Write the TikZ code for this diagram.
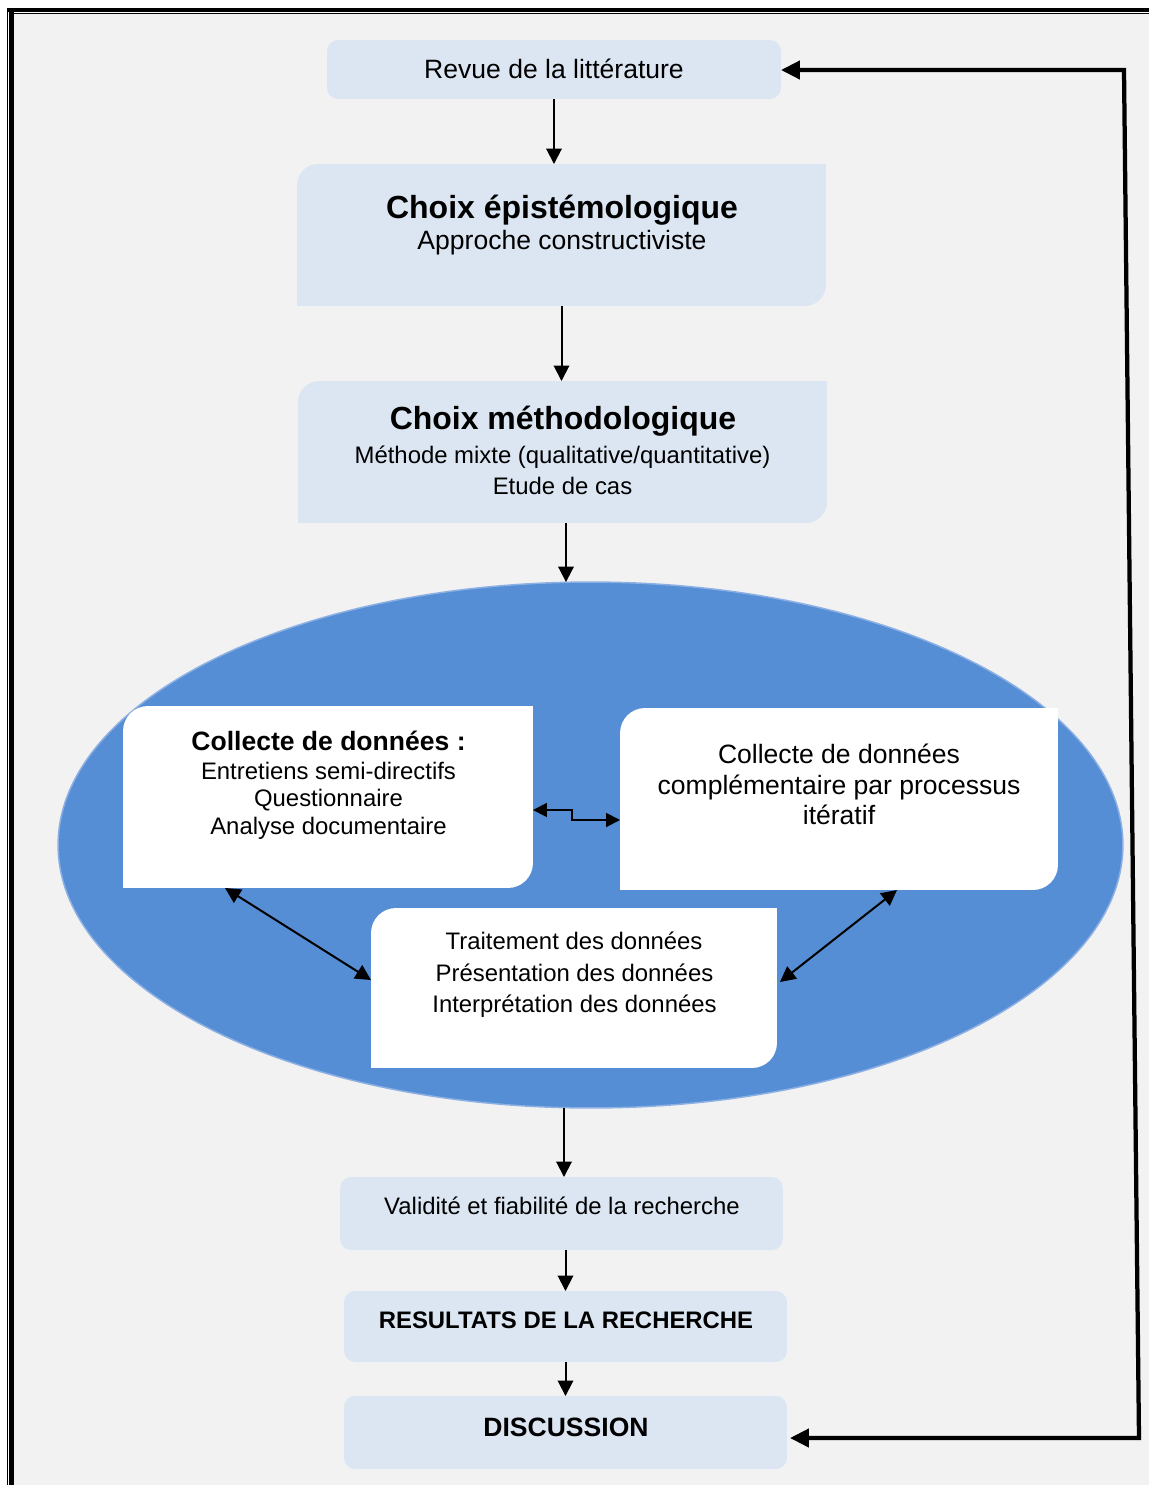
\documentclass[tikz,border=0pt]{standalone}
\usepackage{fontspec}
\setmainfont{Liberation Sans}
\usetikzlibrary{arrows.meta,shapes.geometric}
\definecolor{pagegray}{HTML}{F2F2F2}
\definecolor{boxblue}{HTML}{DCE6F2}
\definecolor{ellblue}{HTML}{558ED5}
\definecolor{ellrim}{HTML}{8CB0E3}
% fill a box whose top-left and bottom-right corners are rounded
\newcommand\tlbrfill[3]{%
  \fill[#3] (#1.south west) -- ([yshift=-#2]#1.north west)
    arc[start angle=180,end angle=90,radius=#2] -- (#1.north east)
    -- ([yshift=#2]#1.south east)
    arc[start angle=0,end angle=-90,radius=#2] -- cycle;}
\begin{document}
\begin{tikzpicture}[x=0.02cm,y=0.02cm,
  txtL/.style={font=\fontsize{15.1}{18}\selectfont, anchor=base, inner sep=0pt},
  txtS/.style={font=\fontsize{13.6}{16}\selectfont, anchor=base, inner sep=0pt},
  txtSB/.style={font=\fontsize{13.6}{16}\selectfont\bfseries, anchor=base, inner sep=0pt},
  txtLB/.style={font=\fontsize{15.1}{18}\selectfont\bfseries, anchor=base, inner sep=0pt},
  txtH/.style={font=\fontsize{18.2}{22}\selectfont\bfseries, anchor=base, inner sep=0pt},
  boxnode/.style={rectangle, inner sep=0pt, outer sep=0pt},
  roundbox/.style={boxnode, fill=boxblue, rounded corners=0.22cm},
  flow/.style={line width=0.04cm, -{Triangle[length=0.31cm,width=0.31cm]}},
  both/.style={line width=0.04cm, {Triangle[length=0.31cm,width=0.31cm]}-{Triangle[length=0.31cm,width=0.31cm]}},
  elbow/.style={line width=0.035cm, {Triangle[length=0.28cm,width=0.28cm]}-{Triangle[length=0.28cm,width=0.28cm]}},
  loopback/.style={line width=0.085cm, {Triangle[length=0.38cm,width=0.36cm]}-{Triangle[length=0.38cm,width=0.36cm]}},
]
\useasboundingbox (0,0) rectangle (1149,-1485);
\fill[white] (0,0) rectangle (1149,-1485);
\fill[pagegray] (14,-14) rectangle (1149,-1485);

% double page frame (thick-thin)
\draw[line width=0.09cm] (7,-10) -- (1149,-10);
\draw[line width=0.022cm] (11,-13.5) -- (1149,-13.5);
\draw[line width=0.022cm] (7.5,-8) -- (7.5,-1485);
\draw[line width=0.1cm] (11.5,-12) -- (11.5,-1485);

% central ellipse
\node[ellipse, fill=ellblue, draw=ellrim, line width=0.03cm, outer sep=0pt,
      inner sep=0pt, minimum width=21.3cm, minimum height=10.52cm] (ell) at (590.5,-845) {};

% boxes
\node[roundbox, minimum width=9.08cm, minimum height=1.18cm] (revue) at (554,-69.5) {};
\node[boxnode, minimum width=10.58cm, minimum height=2.84cm] (ep) at (561.5,-235) {};
\tlbrfill{ep}{0.42cm}{boxblue}
\node[boxnode, minimum width=10.58cm, minimum height=2.84cm] (meth) at (562.5,-452) {};
\tlbrfill{meth}{0.42cm}{boxblue}
\node[boxnode, minimum width=8.2cm, minimum height=3.64cm] (col) at (328,-797) {};
\tlbrfill{col}{0.5cm}{white}
\node[boxnode, minimum width=8.76cm, minimum height=3.64cm] (cmp) at (839,-799) {};
\tlbrfill{cmp}{0.5cm}{white}
\node[boxnode, minimum width=8.12cm, minimum height=3.2cm] (trt) at (574,-988) {};
\tlbrfill{trt}{0.5cm}{white}
\node[roundbox, minimum width=8.86cm, minimum height=1.46cm] (val) at (561.5,-1213.5) {};
\node[roundbox, minimum width=8.86cm, minimum height=1.42cm] (res) at (565.5,-1326.5) {};
\node[roundbox, minimum width=8.86cm, minimum height=1.46cm] (disc) at (565.5,-1432.5) {};

% texts
\node[txtL] (revue-t) at (554,-78) {Revue de la littérature};
\node[txtH] (ep-h) at (562,-218) {Choix épistémologique};
\node[txtL] (ep-l1) at (562,-249) {Approche constructiviste};
\node[txtH] (meth-h) at (563,-429) {Choix méthodologique};
\node[txtS] (meth-l1) at (562.5,-463) {Méthode mixte (qualitative/quantitative)};
\node[txtS] (meth-l2) at (562.5,-494) {Etude de cas};
\node[txtLB] (col-h) at (328.5,-750) {Collecte de données :};
\node[txtS] (col-l1) at (328.5,-779) {Entretiens semi-directifs};
\node[txtS] (col-l2) at (328.5,-806) {Questionnaire};
\node[txtS] (col-l3) at (328.5,-834) {Analyse documentaire};
\node[txtL] (cmp-l1) at (839,-763) {Collecte de données};
\node[txtL] (cmp-l2) at (839,-794) {complémentaire par processus};
\node[txtL] (cmp-l3) at (839,-824) {itératif};
\node[txtS] (trt-l1) at (574,-949) {Traitement des données};
\node[txtS] (trt-l2) at (574.5,-981) {Présentation des données};
\node[txtS] (trt-l3) at (574.5,-1012) {Interprétation des données};
\node[txtS] (val-t) at (562,-1214) {Validité et fiabilité de la recherche};
\node[txtSB] (res-t) at (566,-1328) {RESULTATS DE LA RECHERCHE};
\node[txtLB] (disc-t) at (566,-1436) {DISCUSSION};

% main flow
\draw[flow] (revue.south) -- (revue.south |- ep.north);
\draw[flow] (ep.south) -- (ep.south |- meth.north);
\draw[flow] ([xshift=0.07cm]meth.south) -- ([xshift=0.07cm]meth.south |- ell.north);
\draw[flow] ([xshift=0.05cm]val.north |- ell.south) -- ([xshift=0.05cm]val.north);
\draw[flow] (res.north |- val.south) -- (res.north);
\draw[flow] (res.south) -- (disc.north);

% exchanges inside the ellipse
\draw[elbow] ([yshift=-0.26cm]col.east) -- ++(0.78cm,0) |- ([yshift=-0.42cm]cmp.west);
\draw[both] ([xshift=2.04cm]col.south west) -- ([yshift=0.16cm]trt.west);
\draw[both] ([xshift=5.54cm]cmp.south west) -- ([xshift=0.06cm,yshift=0.12cm]trt.east);

% feedback loop from the discussion back to the literature review
\coordinate (lpTop) at (1124,-70);
\coordinate (lpBot) at (1139,-1438);
\draw[loopback] ([yshift=-0.01cm]revue.east) -- (lpTop) -- (lpBot) -- ([xshift=0.06cm,yshift=-0.11cm]disc.east);
\end{tikzpicture}
\end{document}
